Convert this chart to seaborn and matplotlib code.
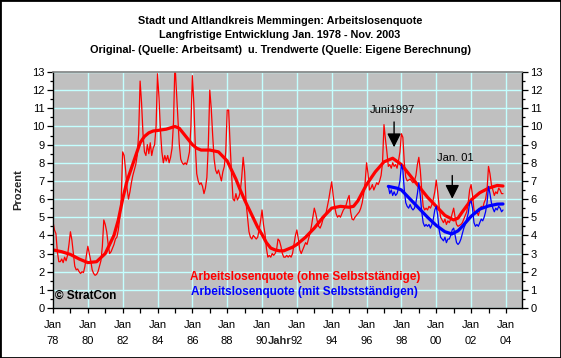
import numpy as np
import pandas as pd
import matplotlib
matplotlib.use("Agg")
import matplotlib.pyplot as plt
import seaborn as sns
from matplotlib.ticker import MultipleLocator, FixedLocator
from matplotlib.patches import Rectangle

# ---------------- data ----------------
start_year = 1978  # first month: Jan 1978
red_raw = [
    4.75, 4.3, 4.1, 3.1, 2.55, 2.55, 2.7, 2.5, 2.8, 2.6, 2.9, 3.5,      # 1978
    4.2, 3.75, 3.0, 2.3, 2.1, 2.15, 2.0, 1.9, 2.0, 1.95, 2.3, 2.9,      # 1979
    3.4, 3.0, 2.6, 2.1, 1.9, 1.8, 1.85, 2.0, 2.3, 2.6, 3.4, 4.85,       # 1980
    4.6, 4.2, 3.5, 3.0, 3.1, 3.3, 3.5, 3.8, 3.9, 4.3, 5.0, 6.0,         # 1981
    8.6, 8.4, 7.6, 6.6, 6.0, 6.4, 6.9, 7.3, 7.6, 7.9, 8.4, 9.6,         # 1982
    12.5, 11.3, 9.6, 8.6, 8.4, 9.0, 8.5, 9.1, 8.4, 8.8, 9.0, 10.0,      # 1983
    12.9, 11.6, 9.8, 8.6, 8.0, 8.4, 8.1, 8.4, 8.0, 8.3, 8.8, 10.2,      # 1984
    13.5, 12.0, 10.5, 9.0, 8.2, 8.0, 7.9, 8.0, 7.9, 8.2, 8.6, 10.0,     # 1985
    12.8, 11.3, 9.0, 7.4, 7.0, 6.8, 6.9, 6.7, 6.3, 6.6, 7.2, 9.0,       # 1986
    12.0, 11.0, 9.5, 8.2, 7.6, 7.4, 7.6, 7.3, 7.0, 7.5, 7.8, 8.6,       # 1987
    10.9, 10.9, 9.0, 7.4, 6.0, 5.9, 6.3, 5.95, 6.1, 6.4, 7.2, 8.3,      # 1988
    7.5, 5.8, 5.0, 4.2, 3.9, 3.8, 4.0, 3.9, 3.8, 3.9, 4.3, 4.8,         # 1989
    5.4, 4.6, 4.1, 3.3, 2.8, 2.9, 2.8, 3.0, 2.9, 3.0, 3.2, 3.8,         # 1990
    3.7, 3.4, 3.0, 2.8, 2.8, 2.9, 2.8, 2.9, 2.8, 3.0, 3.5, 4.0,         # 1991
    4.3, 3.8, 3.2, 3.0, 3.2, 3.4, 3.6, 3.5, 3.8, 4.1, 4.5, 5.0,         # 1992
    5.5, 5.2, 4.8, 4.5, 4.4, 4.6, 4.9, 5.0, 5.2, 5.6, 6.0, 6.5,         # 1993
    6.95, 6.2, 5.6, 5.2, 5.0, 5.1, 5.0, 5.2, 5.4, 5.5, 5.7, 6.0,        # 1994
    6.2, 5.3, 4.9, 4.85, 5.0, 5.1, 5.2, 5.3, 5.5, 5.8, 6.3, 6.9,        # 1995
    8.0, 7.4, 6.5, 6.6, 6.8, 6.5, 6.7, 6.9, 6.8, 7.0, 7.3, 8.0,         # 1996
    10.1, 9.3, 8.6, 7.8, 7.9, 7.7, 8.0, 7.8, 7.9, 7.7, 8.1, 8.6,        # 1997
    9.6, 9.4, 8.0, 7.2, 7.0, 7.05, 7.1, 7.0, 6.9, 7.0, 7.3, 7.9,        # 1998
    8.3, 7.6, 6.5, 5.6, 5.4, 5.5, 5.4, 5.6, 5.5, 5.7, 6.0, 6.4,         # 1999
    7.05, 6.4, 5.6, 5.0, 4.85, 4.7, 4.9, 4.6, 4.8, 4.7, 4.9, 5.2,       # 2000
    5.5, 5.0, 4.6, 4.5, 4.55, 4.6, 4.7, 4.9, 5.1, 5.3, 5.8, 6.5,        # 2001
    6.8, 6.2, 5.4, 5.2, 5.3, 5.1, 5.4, 5.6, 5.5, 5.8, 6.0, 6.5,         # 2002
    7.8, 7.4, 6.8, 6.5, 6.2, 6.4, 6.3, 6.6, 6.5, 6.3, 6.3,              # 2003 (Jan-Nov)
]

red_trend_t = [1978.0, 1978.5, 1979.0, 1979.5, 1980.0, 1980.5, 1981.0, 1981.5, 1981.75,
               1982.0, 1982.25, 1982.5, 1982.75, 1983.0, 1983.25, 1983.5, 1983.75, 1984.0,
               1984.5, 1985.0, 1985.25, 1985.5, 1985.75, 1986.0, 1986.25, 1986.5, 1987.0,
               1987.5, 1987.75, 1988.0, 1988.25, 1988.5, 1988.75, 1989.0, 1989.25, 1989.5,
               1989.75, 1990.0, 1990.25, 1990.5, 1990.75, 1991.0, 1991.25, 1991.5, 1991.75,
               1992.0, 1992.5, 1993.0, 1993.5, 1994.0, 1994.5, 1995.0, 1995.25, 1995.5,
               1995.75, 1996.0, 1996.5, 1997.0, 1997.5, 1998.0, 1998.5, 1999.0, 1999.5,
               2000.0, 2000.5, 2001.0, 2001.25, 2001.5, 2002.0, 2002.5, 2003.0, 2003.5, 2003.83]
red_trend_v = [3.2, 3.1, 2.95, 2.7, 2.5, 2.55, 3.0, 4.0, 4.85,
               6.0, 7.0, 7.7, 8.4, 9.1, 9.45, 9.65, 9.75, 9.78,
               9.85, 10.0, 9.9, 9.6, 9.3, 9.0, 8.8, 8.7, 8.7,
               8.6, 8.35, 8.1, 7.6, 7.1, 6.5, 5.95, 5.45, 4.95,
               4.45, 4.05, 3.6, 3.3, 3.2, 3.15, 3.15, 3.25, 3.35,
               3.5, 3.9, 4.4, 5.0, 5.5, 5.6, 5.55, 5.6, 5.9,
               6.35, 6.8, 7.5, 8.05, 8.25, 7.9, 7.3, 6.7, 6.1,
               5.6, 5.1, 4.85, 4.95, 5.3, 5.95, 6.35, 6.6, 6.75, 6.72]

blue_start = 1997 + 3 / 12  # first month: Apr 1997
blue_raw = [
    6.7, 6.3, 6.5, 6.2, 6.4, 6.2, 6.3, 6.6, 7.0,                        # 1997 (Apr-Dec)
    7.9, 7.6, 6.5, 5.8, 5.6, 5.5, 5.7, 5.5, 5.4, 5.5, 5.8, 6.3,         # 1998
    6.9, 6.2, 5.3, 4.7, 4.5, 4.6, 4.5, 4.6, 4.4, 4.6, 4.9, 5.4,         # 1999
    5.6, 5.1, 4.3, 3.9, 3.8, 3.7, 3.9, 3.6, 3.8, 3.8, 4.0, 4.3,         # 2000
    4.4, 4.0, 3.6, 3.5, 3.6, 3.8, 4.1, 4.4, 4.6, 4.9, 5.2, 5.8,         # 2001
    5.9, 5.5, 4.7, 4.5, 4.6, 4.5, 4.7, 4.9, 4.8, 5.0, 5.3, 5.8,         # 2002
    6.7, 6.3, 5.8, 5.5, 5.3, 5.5, 5.4, 5.6, 5.5, 5.3, 5.4,              # 2003 (Jan-Nov)
]
blue_trend_t = [1997.25, 1997.75, 1998.0, 1998.5, 1999.0, 1999.5, 2000.0, 2000.5, 2000.9,
                2001.25, 2001.5, 2002.0, 2002.5, 2003.0, 2003.5, 2003.83]
blue_trend_v = [6.7, 6.6, 6.5, 6.0, 5.5, 5.0, 4.55, 4.2, 4.08,
                4.25, 4.5, 5.05, 5.45, 5.62, 5.72, 5.73]

title_lines = ["Stadt und Altlandkreis Memmingen: Arbeitslosenquote",
               "Langfristige Entwicklung Jan. 1978 - Nov. 2003",
               "Original- (Quelle: Arbeitsamt)  u. Trendwerte (Quelle: Eigene Berechnung)"]
x_tick_years = list(range(1978, 2005, 2))
x_tick_labels = ["Jan\n%02d" % (y % 100) for y in x_tick_years]
y_ticks = list(range(0, 14))

# ---------------- frames ----------------
df_red = pd.DataFrame({"t": start_year + np.arange(len(red_raw)) / 12.0, "v": red_raw})
df_red_tr = pd.DataFrame({"t": red_trend_t, "v": red_trend_v})
df_blue = pd.DataFrame({"t": blue_start + np.arange(len(blue_raw)) / 12.0, "v": blue_raw})
df_blue_tr = pd.DataFrame({"t": blue_trend_t, "v": blue_trend_v})

sns.set_theme(style="white")
plt.rcParams['font.family'] = ['Liberation Sans', 'DejaVu Sans']

W, H = 561, 358
fig = plt.figure(figsize=(W / 100, H / 100), dpi=100, facecolor="white")
L, R, T, B = 53, 522, 72, 308
ax = fig.add_axes([L / W, 1 - B / H, (R - L) / W, (B - T) / H])
ax.set_facecolor("#c0c0c0")

ppy = 17.42
ax.set_xlim(1978, 1978 + (R - L) / ppy)
ax.set_ylim(0, 13)

ax.set_axisbelow(True)
ax.xaxis.set_major_locator(FixedLocator(x_tick_years))
ax.set_xticklabels(x_tick_labels)
ax.xaxis.set_minor_locator(MultipleLocator(1))
ax.yaxis.set_major_locator(FixedLocator(y_ticks))
ax.yaxis.set_minor_locator(MultipleLocator(0.5))
ax.grid(True, which="major", color="#c4ffff", lw=1.0)

sns.lineplot(data=df_red, x="t", y="v", ax=ax, color="#ff0000", lw=0.9, estimator=None)
sns.lineplot(data=df_red_tr, x="t", y="v", ax=ax, color="#ff0000", lw=2.3, estimator=None)
sns.lineplot(data=df_blue, x="t", y="v", ax=ax, color="#0000ff", lw=0.9, estimator=None)
sns.lineplot(data=df_blue_tr, x="t", y="v", ax=ax, color="#0000ff", lw=2.3, estimator=None)

ax.set_xlabel("")
ax.set_ylabel("")

for s in ["left", "bottom", "right"]:
    ax.spines[s].set_color("black")
    ax.spines[s].set_linewidth(1.0)
    ax.spines[s].set_visible(True)
ax.spines["top"].set_color("#808080")
ax.spines["top"].set_linewidth(1.2)

ax.tick_params(axis="y", which="both", left=True, right=True, labelleft=True, labelright=True,
               direction="out", labelsize=8, colors="black")
ax.tick_params(axis="y", which="major", length=4, width=0.9, pad=2)
ax.tick_params(axis="y", which="minor", length=2.5, width=0.9)
ax.tick_params(axis="x", which="both", bottom=True, direction="out", labelsize=8, colors="black",
               length=3.5, width=0.9, pad=5)
for lab in ax.get_xticklabels():
    lab.set_linespacing(1.75)

# titles
for i, line in enumerate(title_lines):
    fig.text(280 / W, 1 - (21 + 14.5 * i) / H, line, ha="center", va="center",
             fontsize=7.8, fontweight="bold", color="black")

fig.text(18 / W, 1 - 190 / H, "Prozent", rotation=90, ha="center", va="center",
         fontsize=8, fontweight="bold")
fig.text(280 / W, 1 - 341 / H, "Jahr", ha="center", va="center", fontsize=8, fontweight="bold")

fig.text(190 / W, 1 - 277 / H, "Arbeitslosenquote (ohne Selbstständige)", ha="left", va="center",
         fontsize=8.5, fontweight="bold", color="#ff0000")
fig.text(191 / W, 1 - 292 / H, "Arbeitslosenquote (mit Selbstständigen)", ha="left", va="center",
         fontsize=8.5, fontweight="bold", color="#0000ff")
fig.text(55 / W, 1 - 296 / H, "© StratCon", ha="left", va="center", fontsize=8.5,
         fontweight="bold", color="black")

# annotations
ax.annotate("", xy=(1997.58, 8.7), xytext=(1997.58, 10.4),
            arrowprops=dict(arrowstyle="-|>,head_width=0.35,head_length=0.7", color="black", lw=1))
ax.text(1997.5, 10.9, "Juni1997", ha="center", va="center", fontsize=8, color="black")
ax.annotate("", xy=(2000.92, 5.86), xytext=(2000.92, 7.45),
            arrowprops=dict(arrowstyle="-|>,head_width=0.35,head_length=0.7", color="black", lw=1))
ax.text(2001.1, 8.26, "Jan. 01", ha="center", va="center", fontsize=8, color="black")

fig.patches.append(Rectangle((0, 0), 1, 1, transform=fig.transFigure, fill=False,
                             edgecolor="black", lw=2.0))

fig.savefig("out.png", dpi=100, facecolor="white")
